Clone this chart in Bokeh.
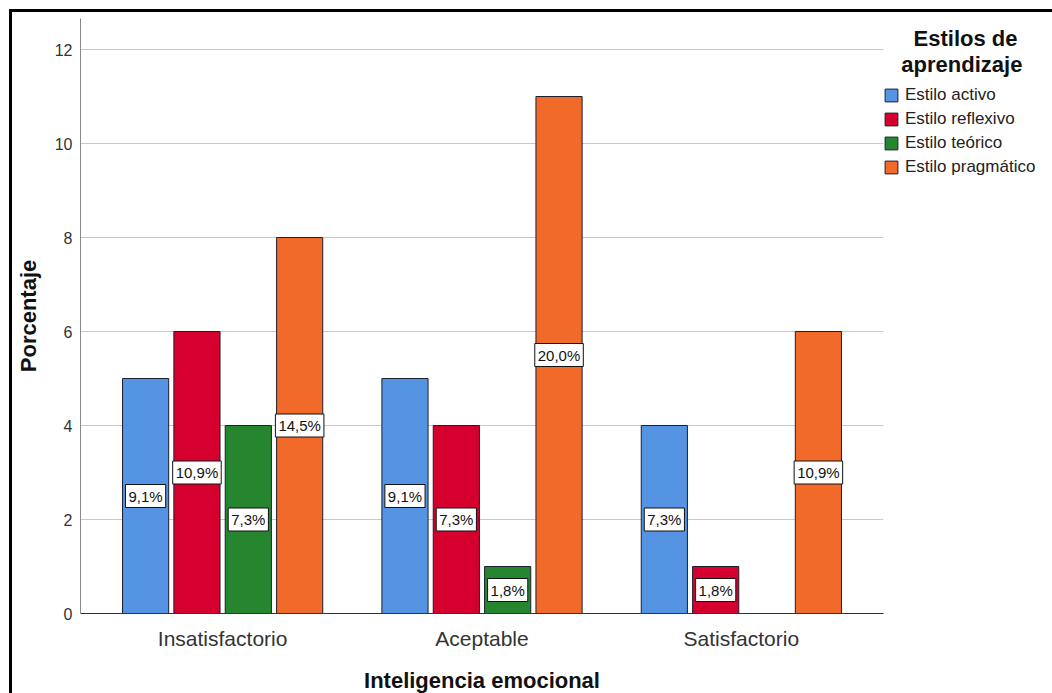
from bokeh.plotting import figure
from bokeh.models import ColumnDataSource, FactorRange, Legend, LegendItem
from bokeh.transform import dodge
from bokeh.core.properties import value
from bokeh.embed import file_html
from bokeh.resources import INLINE

categories = ["Insatisfactorio", "Aceptable", "Satisfactorio"]
series_names = ["Estilo activo", "Estilo reflexivo", "Estilo teórico", "Estilo pragmático"]
activo = [5, 5, 4]
reflexivo = [6, 4, 1]
teorico = [4, 1, 0]
pragmatico = [8, 11, 6]
activo_lbl = ["9,1%", "9,1%", "7,3%"]
reflexivo_lbl = ["10,9%", "7,3%", "1,8%"]
teorico_lbl = ["7,3%", "1,8%", ""]
pragmatico_lbl = ["14,5%", "20,0%", "10,9%"]
y_ticks = [0, 2, 4, 6, 8, 10, 12]

colors = ["#5594E2", "#D6002F", "#26862F", "#F26A2A"]
offsets = [-0.297, -0.099, 0.099, 0.297]
FONT = "Liberation Sans"
NB = "\u00a0"

p = figure(x_range=FactorRange(*categories, range_padding=0.032),
           y_range=(0, 12.66),
           frame_width=803, frame_height=595,
           min_border_left=68, min_border_top=6, min_border_bottom=78, min_border_right=10,
           output_backend="svg", toolbar_location=None,
           styles={"border-left": "3px solid black", "border-top": "3px solid black",
                   "margin-left": "9px", "margin-top": "9px"})

series = [(activo, activo_lbl), (reflexivo, reflexivo_lbl), (teorico, teorico_lbl), (pragmatico, pragmatico_lbl)]
items = []
for (vals, lbls), name, col, off in zip(series, series_names, colors, offsets):
    cats = [c for c, v in zip(categories, vals) if v > 0]
    tops = [v for v in vals if v > 0]
    labs = [l for l, v in zip(lbls, vals) if v > 0]
    src = ColumnDataSource(dict(cat=cats, top=tops, mid=[t / 2 for t in tops], lbl=labs))
    r = p.vbar(x=dodge("cat", off, range=p.x_range), top="top", width=0.178, source=src,
               fill_color=col, line_color="#1b1f2e", line_width=1)
    items.append(LegendItem(label=name, renderers=[r]))
    p.text(x=dodge("cat", off, range=p.x_range), y="mid", text="lbl", source=src,
           text_font=value(FONT), text_font_size="15px", text_color="#111111",
           text_align="center", text_baseline="middle",
           background_fill_color="white", border_line_color="#111111", border_line_width=1,
           padding=3)

p.xgrid.grid_line_color = None
p.ygrid.grid_line_color = "#c8c8c8"
p.ygrid.grid_line_width = 1
p.outline_line_color = None

p.yaxis.ticker = y_ticks
p.yaxis.axis_line_color = "#8a8a8a"
p.yaxis.major_tick_line_color = None
p.yaxis.minor_tick_line_color = None
p.yaxis.major_tick_out = 0
p.yaxis.major_tick_in = 0
p.yaxis.minor_tick_out = 0
p.yaxis.major_label_text_font = FONT
p.yaxis.major_label_text_font_size = "16px"
p.yaxis.major_label_text_color = "#333333"
p.yaxis.major_label_standoff = 8
p.yaxis.axis_label = "Porcentaje"
p.yaxis.axis_label_text_font = FONT
p.yaxis.axis_label_text_font_style = "bold"
p.yaxis.axis_label_text_font_size = "22px"
p.yaxis.axis_label_text_color = "#111111"
p.yaxis.axis_label_standoff = 11

p.xaxis.axis_line_color = "#333333"
p.xaxis.major_tick_line_color = None
p.xaxis.minor_tick_line_color = None
p.xaxis.major_tick_out = 0
p.xaxis.major_tick_in = 0
p.xaxis.minor_tick_out = 0
p.xaxis.major_label_text_font = FONT
p.xaxis.major_label_text_font_size = "21px"
p.xaxis.major_label_text_color = "#333333"
p.xaxis.major_label_standoff = 13
p.xaxis.axis_label = "Inteligencia emocional"
p.xaxis.axis_label_text_font = FONT
p.xaxis.axis_label_text_font_style = "bold"
p.xaxis.axis_label_text_font_size = "22px"
p.xaxis.axis_label_text_color = "#111111"
p.xaxis.axis_label_standoff = 15

legend = Legend(items=items, location=(0, 436),
                title=NB * 5 + "Estilos de\n" + NB * 3 + "aprendizaje")
legend.title_text_font = FONT
legend.title_text_font_style = "bold"
legend.title_text_font_size = "22px"
legend.title_text_line_height = 0.75
legend.title_text_color = "#111111"
legend.title_standoff = 7
legend.label_text_font = FONT
legend.label_text_font_size = "17px"
legend.label_text_color = "#222222"
legend.glyph_width = 16
legend.glyph_height = 16
legend.label_height = 16
legend.spacing = 4
legend.label_standoff = 6
legend.margin = 0
legend.padding = 3
legend.border_line_color = None
legend.background_fill_alpha = 0
p.add_layout(legend, "right")

open("out.html", "w").write(file_html(p, INLINE))
